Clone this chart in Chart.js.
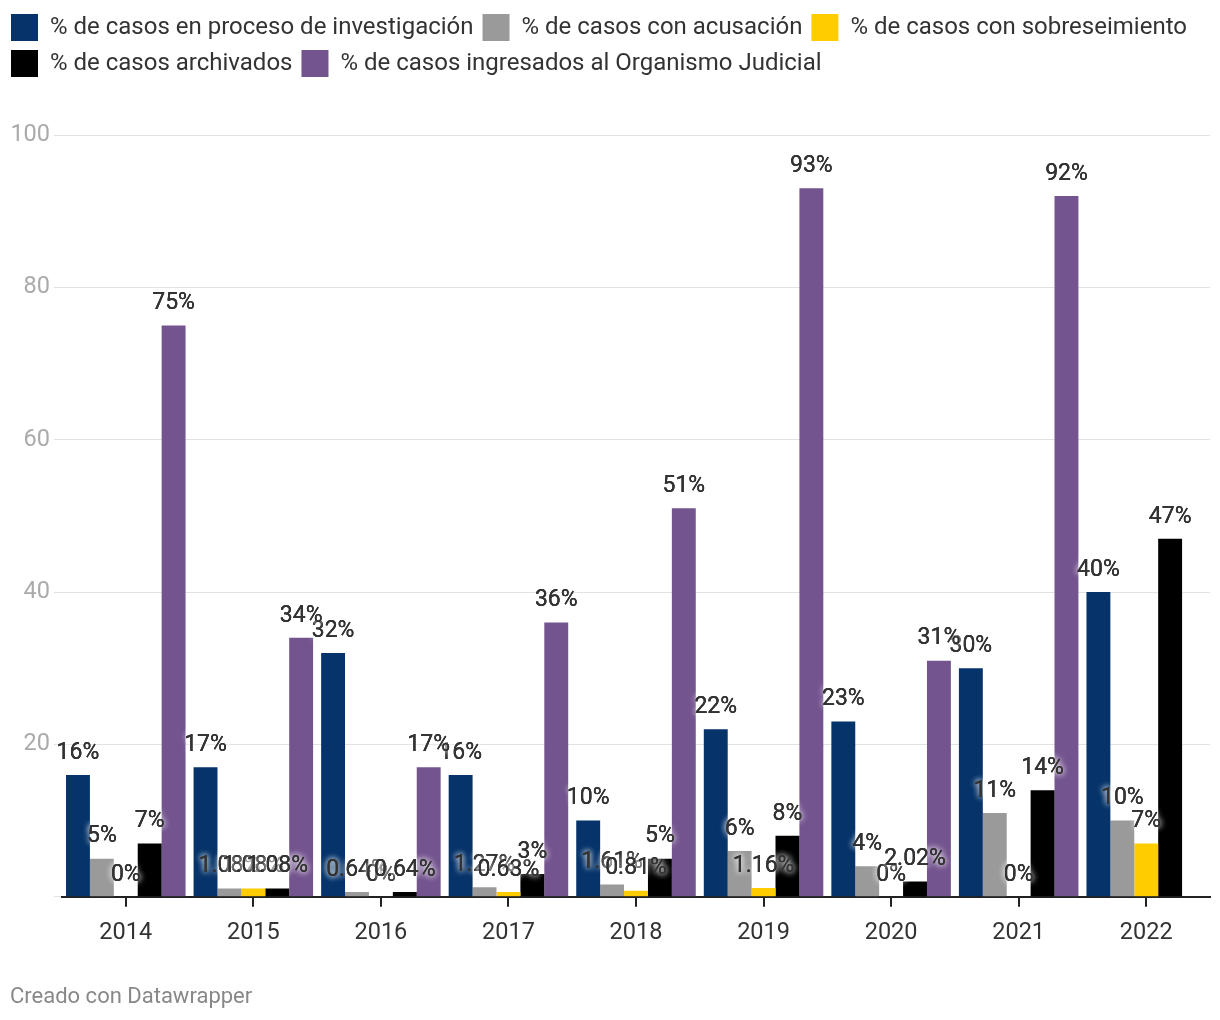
<!DOCTYPE html>
<html>
<head>
<meta charset="utf-8">
<script src="https://cdn.jsdelivr.net/npm/chart.js@4"></script>
<style>
  body { margin: 0; background: #fff; }
  #wrap { width: 1220px; height: 1020px; position: relative; }
</style>
</head>
<body>
<div id="wrap"><canvas id="chart"></canvas></div>
<script>
// años y series (porcentajes)
const years = ['2014', '2015', '2016', '2017', '2018', '2019', '2020', '2021', '2022'];
const investigacion = [16, 17, 32, 16, 10, 22, 23, 30, 40];
const acusacion = [5, 1.08, 0.64, 1.27, 1.61, 6, 4, 11, 10];
const sobreseimiento = [0, 1.08, 0, 0.63, 0.81, 1.16, 0, 0, 7];
const archivados = [7, 1.08, 0.64, 3, 5, 8, 2.02, 14, 47];
const organismoJudicial = [75, 34, 17, 36, 51, 93, 31, 92, null];
const yTicks = [0, 20, 40, 60, 80, 100];

// etiquetas de valor encima de cada barra (con halo blanco difuso)
const barLabels = {
    id: 'barLabels',
    afterDatasetsDraw(chart) {
        const ctx = chart.ctx;
        ctx.save();
        ctx.font = '23px Roboto';
        ctx.textAlign = 'center';
        ctx.textBaseline = 'middle';
        chart.data.datasets.forEach((ds, i) => {
            chart.getDatasetMeta(i).data.forEach((bar, j) => {
                const v = ds.data[j];
                if (v === null || v === undefined) return;
                const txt = v + '%';
                const y = bar.y - 22;
                ctx.fillStyle = '#333';
                ctx.shadowColor = '#fff';
                ctx.shadowBlur = 6;
                ctx.fillText(txt, bar.x, y);
                ctx.fillText(txt, bar.x, y);
                ctx.shadowBlur = 0;
                ctx.fillText(txt, bar.x, y);
            });
        });
        ctx.restore();
    }
};

// espacio extra debajo de la leyenda
const legendGap = {
    id: 'legendGap',
    beforeInit(chart) {
        const fit = chart.legend.fit;
        chart.legend.fit = function () {
            fit.call(this);
            this.height += 48;
        };
    }
};

// pie de página
const footer = {
    id: 'footer',
    afterDraw(chart) {
        const ctx = chart.ctx;
        ctx.save();
        ctx.font = '22px Roboto';
        ctx.fillStyle = '#888';
        ctx.textBaseline = 'middle';
        ctx.fillText('Creado con Datawrapper', 10, 997);
        ctx.restore();
    }
};

new Chart(document.getElementById('chart'), {
    type: 'bar',
    data: {
        labels: years,
        datasets: [
            { label: '% de casos en proceso de investigación', data: investigacion, backgroundColor: '#05336a' },
            { label: '% de casos con acusación', data: acusacion, backgroundColor: '#9a9a9a' },
            { label: '% de casos con sobreseimiento', data: sobreseimiento, backgroundColor: '#ffcc00' },
            { label: '% de casos archivados', data: archivados, backgroundColor: '#000000' },
            { label: '% de casos ingresados al Organismo Judicial', data: organismoJudicial, backgroundColor: '#74548f' }
        ]
    },
    options: {
        responsive: true,
        maintainAspectRatio: false,
        animation: false,
        datasets: { bar: { categoryPercentage: 0.937, barPercentage: 1, borderWidth: 0 } },
        layout: { padding: { left: 2, right: 10, top: 5, bottom: 61 } },
        plugins: {
            legend: {
                position: 'top',
                align: 'start',
                labels: {
                    font: { family: 'Roboto', size: 24 },
                    color: '#333',
                    boxWidth: 27,
                    boxHeight: 27,
                    padding: 9
                }
            },
            tooltip: { enabled: false }
        },
        scales: {
            x: {
                grid: { display: true, drawOnChartArea: false, offset: false, color: '#222', tickLength: 10, lineWidth: 2 },
                border: { display: true, color: '#222', width: 2 },
                ticks: { font: { family: 'Roboto', size: 23.5 }, color: '#333', padding: 12 }
            },
            y: {
                min: 0,
                max: 100,
                afterBuildTicks(axis) { axis.ticks = yTicks.map(v => ({ value: v })); },
                afterFit(axis) { axis.width = 60; },
                grid: { color: '#e2e2e2', lineWidth: 1, tickLength: 8 },
                border: { display: false },
                ticks: {
                    font: { family: 'Roboto', size: 23.5 },
                    color: '#aaa',
                    padding: 4,
                    callback: v => (v === 0 ? '' : v)
                }
            }
        }
    },
    plugins: [barLabels, legendGap, footer]
});
</script>
</body>
</html>
